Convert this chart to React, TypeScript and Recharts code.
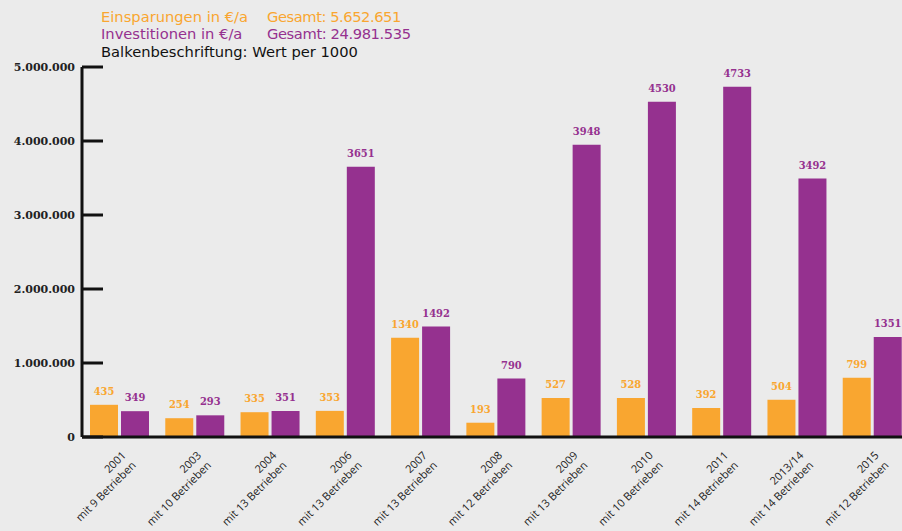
import React from 'react';
import { BarChart, Bar, XAxis, YAxis, LabelList } from 'recharts';

const jahre = ['2001', '2003', '2004', '2006', '2007', '2008', '2009', '2010', '2011', '2013/14', '2015'];
const betriebe = [9, 10, 13, 13, 13, 12, 13, 10, 14, 14, 12];
const einsparungen = [435000, 254000, 335000, 353000, 1340000, 193000, 527000, 528000, 392000, 504000, 799000];
const investitionen = [349000, 293000, 351000, 3651000, 1492000, 790000, 3948000, 4530000, 4733000, 3492000, 1351000];
const yTicks = [0, 1000000, 2000000, 3000000, 4000000, 5000000];

const ORANGE = '#f9a630';
const PURPLE = '#95318f';

const data = jahre.map((jahr, i) => ({
    jahr,
    sub: `mit ${betriebe[i]} Betrieben`,
    einsparungen: einsparungen[i],
    investitionen: investitionen[i],
}));

const fmt = (v: number) => String(v).replace(/\B(?=(\d{3})+(?!\d))/g, '.');

const YTick = (props: any) => {
    const { x, y, payload } = props;
    return (
        <g>
            <line x1={x} x2={x + 21} y1={y} y2={y} stroke="#111" strokeWidth={3} />
            <text x={x - 7} y={y} dy={4} textAnchor="end" fill="#222"
                fontFamily="DejaVu Serif" fontWeight="bold" fontSize={11}>
                {fmt(payload.value)}
            </text>
        </g>
    );
};

const XTick = (props: any) => {
    const { x, y, index } = props;
    const d = data[index];
    return (
        <g transform={`translate(${x},${y + 12}) rotate(-45)`}>
            <text textAnchor="end" fill="#222" fontFamily="Open Sans" fontSize={11}>
                <tspan x={0} dy={10}>{d.jahr}</tspan>
                <tspan x={0} dy={14}>{d.sub}</tspan>
            </text>
        </g>
    );
};

const labelStyle = { fontFamily: "'DejaVu Serif Condensed', 'DejaVu Serif'", fontWeight: 'bold', fontSize: 11 };

const legendLine = { position: 'absolute' as const, fontFamily: 'DejaVu Sans', fontSize: 14.7, lineHeight: '17px', whiteSpace: 'nowrap' as const };

export default function App() {
    return (
        <div style={{ position: 'fixed', left: 0, top: 0, width: 902, height: 531, overflow: 'hidden', background: '#ebebeb' }}>
            <div style={{ ...legendLine, left: 101, top: 8, color: ORANGE }}>Einsparungen in €/a</div>
            <div style={{ ...legendLine, left: 267, top: 8, color: ORANGE, letterSpacing: -0.45 }}>Gesamt: 5.652.651</div>
            <div style={{ ...legendLine, left: 101, top: 25.4, color: PURPLE }}>Investitionen in €/a</div>
            <div style={{ ...legendLine, left: 267, top: 25.4, color: PURPLE, letterSpacing: -0.4 }}>Gesamt: 24.981.535</div>
            <div style={{ ...legendLine, left: 101, top: 42.6, color: '#111' }}>Balkenbeschriftung: Wert per 1000</div>
            <BarChart width={920} height={531} data={data}
                margin={{ top: 67, right: 10, left: 0, bottom: 0 }}
                barSize={28} barGap={3} style={{ position: 'absolute', left: 0, top: 0 }}>
                <XAxis dataKey="jahr" height={94} interval={0} tickSize={0} tickMargin={0}
                    tickLine={false} axisLine={{ stroke: '#111', strokeWidth: 3 }} tick={<XTick />} />
                <YAxis width={82} domain={[0, 5000000]} ticks={yTicks} interval={0} tickSize={0} tickMargin={0}
                    tickLine={false} axisLine={{ stroke: '#111', strokeWidth: 3 }} tick={<YTick />} />
                <Bar dataKey="einsparungen" fill={ORANGE} isAnimationActive={false}>
                    <LabelList dataKey="einsparungen" position="top" offset={10} fill={ORANGE}
                        style={labelStyle} formatter={(v: any) => Math.round(v / 1000)} />
                </Bar>
                <Bar dataKey="investitionen" fill={PURPLE} isAnimationActive={false}>
                    <LabelList dataKey="investitionen" position="top" offset={10} fill={PURPLE}
                        style={labelStyle} formatter={(v: any) => Math.round(v / 1000)} />
                </Bar>
            </BarChart>
        </div>
    );
}
